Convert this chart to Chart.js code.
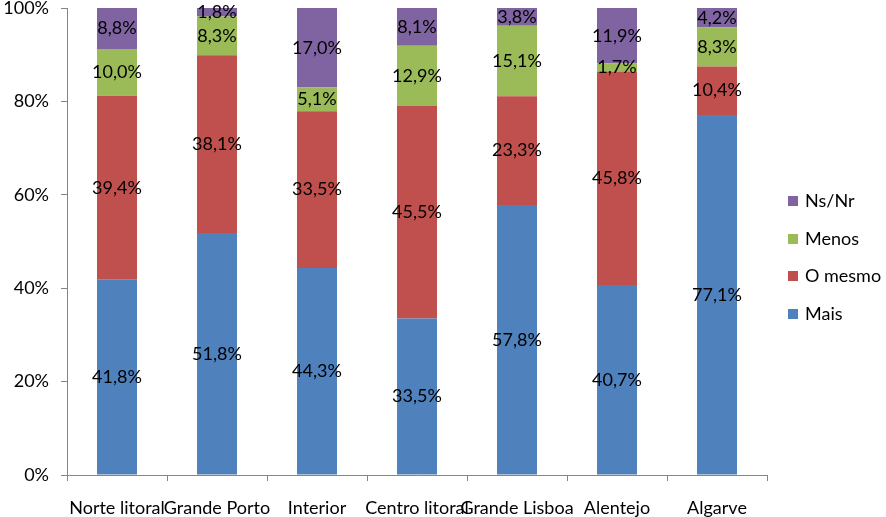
<!DOCTYPE html>
<html>
<head>
<meta charset="utf-8">
<script src="https://cdn.jsdelivr.net/npm/chart.js@4"></script>
<style>
    html, body { margin: 0; padding: 0; background: #fff; }
    #wrap { position: relative; width: 886px; height: 517px; }
    #legend { position: absolute; left: 788px; top: 188px; font-family: Lato, sans-serif; font-size: 18px; color: #000; }
    #legend div { height: 37.6px; line-height: 24px; white-space: nowrap; }
    #legend span { display: inline-block; width: 10px; height: 10px; margin-right: 7px; vertical-align: 1px; }
</style>
</head>
<body>
<div id="wrap">
    <canvas id="chart" width="886" height="517"></canvas>
    <div id="legend"></div>
</div>
<script>
const regions = ['Norte litoral', 'Grande Porto', 'Interior', 'Centro litoral', 'Grande Lisboa', 'Alentejo', 'Algarve'];

const mais    = [41.8, 51.8, 44.3, 33.5, 57.8, 40.7, 77.1];
const oMesmo  = [39.4, 38.1, 33.5, 45.5, 23.3, 45.8, 10.4];
const menos   = [10.0,  8.3,  5.1, 12.9, 15.1,  1.7,  8.3];
const nsNr    = [ 8.8,  1.8, 17.0,  8.1,  3.8, 11.9,  4.2];

const yTicks = [0, 20, 40, 60, 80, 100];

const series = [
    { label: 'Mais', values: mais, color: '#4F81BD' },
    { label: 'O mesmo', values: oMesmo, color: '#C0504D' },
    { label: 'Menos', values: menos, color: '#9BBB59' },
    { label: 'Ns/Nr', values: nsNr, color: '#8064A2' }
];

// totals per region, so every bar fills to 100%
const totals = regions.map((_, i) => series.reduce((s, d) => s + d.values[i], 0));

const FONT = { family: 'Lato, sans-serif', size: 18 };

const segmentLabels = {
    id: 'segmentLabels',
    afterDatasetsDraw(chart) {
        const ctx = chart.ctx;
        ctx.save();
        ctx.font = `${FONT.size}px ${FONT.family}`;
        ctx.fillStyle = '#000';
        ctx.textAlign = 'center';
        ctx.textBaseline = 'middle';
        chart.data.datasets.forEach((ds, di) => {
            chart.getDatasetMeta(di).data.forEach((bar, i) => {
                const raw = ds.raw[i];
                const y = (bar.y + bar.base) / 2;
                ctx.fillText(raw.toFixed(1).replace('.', ',') + '%', bar.x, y);
            });
        });
        ctx.restore();
    }
};

const chart = new Chart(document.getElementById('chart'), {
    type: 'bar',
    data: {
        labels: regions,
        datasets: series.map(s => ({
            label: s.label,
            raw: s.values,
            data: s.values.map((v, i) => v / totals[i] * 100),
            backgroundColor: s.color,
            barPercentage: 0.4,
            categoryPercentage: 1.0
        }))
    },
    options: {
        responsive: false,
        animation: false,
        layout: { padding: { top: 8, right: 119, left: 0, bottom: 0 } },
        plugins: {
            legend: { display: false },
            tooltip: { enabled: false }
        },
        scales: {
            x: {
                stacked: true,
                afterFit: scale => { scale.height = 42; scale.paddingLeft = 0; scale.paddingRight = 0; },
                grid: { drawOnChartArea: false, drawTicks: true, tickLength: 6, color: '#868686', offset: true },
                border: { color: '#868686' },
                ticks: { autoSkip: false, maxRotation: 0, padding: 16, color: '#000', font: FONT }
            },
            y: {
                stacked: true,
                min: 0,
                max: 100,
                afterFit: scale => { scale.width = 67; scale.paddingTop = 0; scale.paddingBottom = 0; },
                afterBuildTicks: scale => { scale.ticks = yTicks.map(v => ({ value: v })); },
                grid: { drawOnChartArea: false, drawTicks: true, tickLength: 6, color: '#868686' },
                border: { color: '#868686' },
                ticks: { padding: 12, color: '#000', font: FONT, callback: v => v + '%' }
            }
        }
    },
    plugins: [segmentLabels]
});

const legend = document.getElementById('legend');
series.slice().reverse().forEach(s => {
    const row = document.createElement('div');
    row.innerHTML = `<span style="background:${s.color}"></span>${s.label}`;
    legend.appendChild(row);
});
</script>
</body>
</html>
